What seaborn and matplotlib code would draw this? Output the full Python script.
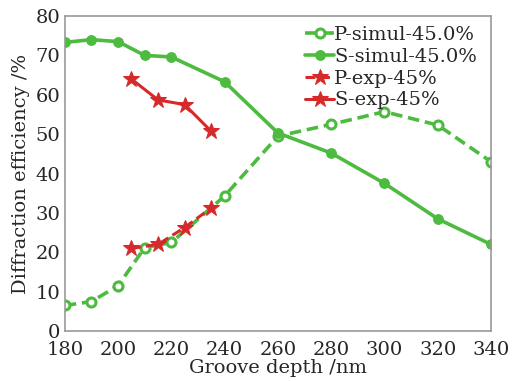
import matplotlib
matplotlib.use("Agg")
import matplotlib.pyplot as plt
import seaborn as sns
import pandas as pd

depth_sim = [180, 190, 200, 210, 220, 240, 260, 280, 300, 320, 340]
p_simul = [6.5, 7.5, 11.5, 21.2, 22.5, 34.3, 49.5, 52.5, 55.7, 52.3, 43.0]
s_simul = [73.3, 74.0, 73.5, 70.0, 69.6, 63.3, 50.3, 45.2, 37.5, 28.5, 22.0]
depth_exp = [205, 215, 225, 235]
p_exp = [21.0, 22.0, 26.3, 31.3]
s_exp = [64.0, 58.7, 57.5, 50.7]

x_ticks = [180, 200, 220, 240, 260, 280, 300, 320, 340]
y_ticks = [0, 10, 20, 30, 40, 50, 60, 70, 80]

sns.set_theme(style="white")
plt.rcParams['font.family'] = ['DejaVu Serif']

green = "#4dbb3f"
red = "#d62a2a"

fig = plt.figure(figsize=(5.18, 3.81), dpi=100)
ax = fig.add_axes([0.125, 0.131, 0.823, 0.827])

sns.lineplot(x=depth_sim, y=p_simul, ax=ax, color=green, linestyle=(0, (3.2, 1.6)), lw=2.6,
             marker="o", markersize=6.5, markerfacecolor="white", markeredgecolor=green,
             markeredgewidth=2.2, label="P-simul-45.0%")
sns.lineplot(x=depth_sim, y=s_simul, ax=ax, color=green, linestyle="-", lw=2.6,
             marker="o", markersize=7, markerfacecolor=green, markeredgecolor=green,
             label="S-simul-45.0%")
sns.lineplot(x=depth_exp, y=p_exp, ax=ax, color=red, linestyle=(0, (3.2, 1.6)), lw=2.2,
             marker="*", markersize=12, markerfacecolor=red, markeredgecolor=red,
             label="P-exp-45%")
sns.lineplot(x=depth_exp, y=s_exp, ax=ax, color=red, linestyle="-", lw=2.2,
             marker="*", markersize=12, markerfacecolor=red, markeredgecolor=red,
             label="S-exp-45%")

ax.set_xlim(180, 340)
ax.set_ylim(0, 80)
ax.set_xticks(x_ticks)
ax.set_yticks(y_ticks)
ax.tick_params(direction="in", length=4, color="#888888", labelsize=14)
ax.tick_params(axis="x", pad=7)
ax.tick_params(axis="y", pad=3)
for s in ax.spines.values():
    s.set_color("#999999")
    s.set_linewidth(1.2)
ax.set_xlabel("Groove depth /nm", fontsize=14, labelpad=0)
ax.set_ylabel("Diffraction efficiency /%", fontsize=14, labelpad=4)

leg = ax.legend(loc="upper right", frameon=False, fontsize=14, handlelength=1.5,
                handletextpad=0.0, labelspacing=0.2, borderaxespad=0.1,
                bbox_to_anchor=(0.99, 1.0))

fig.savefig("out.png", dpi=100)
